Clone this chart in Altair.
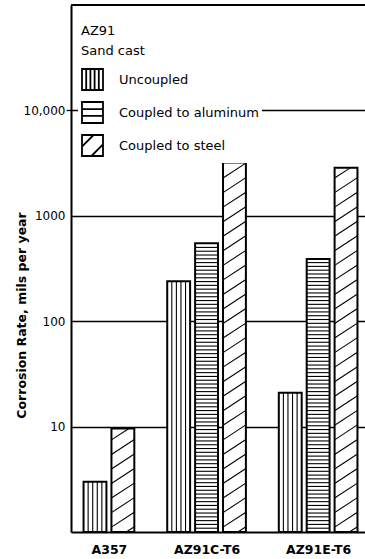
import altair as alt
import numpy as np
import pandas as pd

# ---- data -------------------------------------------------------------
groups = ["A357", "AZ91C-T6", "AZ91E-T6"]
series = ["Uncoupled", "Coupled to aluminum", "Coupled to steel"]
# corrosion rate, mils per year (None = not tested)
uncoupled = [3.0, 240, 21]
coupled_al = [None, 550, 390]
coupled_steel = [9.6, 3200, 2850]
y_ticks = [10, 100, 1000, 10000]
legend_title = ["AZ91", "Sand cast"]

FONT = "DejaVu Sans"

# ---- bar slots: one slot per bar, one empty slot between groups ---------
rows, centers, slot = [], [], 0
for gi, g in enumerate(groups):
    first = slot
    for s, vals in zip(series, [uncoupled, coupled_al, coupled_steel]):
        v = vals[gi]
        if v is None:
            continue
        rows.append(dict(group=g, series=s, value=v, slot=slot))
        slot += 1
    centers.append((first + slot - 1) / 2)
    slot += 1
last_slot = slot - 2

HALF = 0.41  # half bar width, in slot units
bars = pd.DataFrame(rows)
bars["x0"] = bars["slot"] - HALF
bars["x1"] = bars["slot"] + HALF
bars["base"] = 1.0

# ---- hatching lines, one set per bar ----------------------------------
hatch = []
for r in bars.itertuples():
    top = np.log10(r.value)
    if r.series == series[0]:            # vertical lines
        for f in (-0.6, -0.2, 0.2, 0.6):
            xx = r.slot + f * HALF
            hatch.append(dict(x=xx, x2=xx, y=1.0, y2=r.value))
    elif r.series == series[1]:          # horizontal lines
        step = 0.036
        k = step
        while k < top - step * 0.6:
            hatch.append(dict(x=r.x0, x2=r.x1, y=10 ** k, y2=10 ** k))
            k += step
    else:                                # diagonal lines
        gap, rise = 0.138, 0.142
        b = -rise + 0.05
        while b < top:
            t0 = max(0.0, (0.0 - b) / rise)
            t1 = min(1.0, (top - b) / rise)
            if t1 > t0 + 0.02:
                hatch.append(dict(
                    x=r.x0 + t0 * (r.x1 - r.x0), x2=r.x0 + t1 * (r.x1 - r.x0),
                    y=10 ** (b + t0 * rise), y2=10 ** (b + t1 * rise)))
            b += gap
hatch = pd.DataFrame(hatch)

# ---- scales & axes ----------------------------------------------------
xscale = alt.Scale(domain=[-0.86, last_slot + 0.68], nice=False, zero=False)
yscale = alt.Scale(type="log", domain=[1, 100000], nice=False)

x_label_expr = " : ".join(
    f"datum.value == {c} ? '{g}'" for c, g in zip(centers[:-1], groups[:-1])
) + f" : '{groups[-1]}'"
y_label_expr = "datum.value >= 10000 ? format(datum.value, ',') : format(datum.value, 'd')"

x_axis = alt.Axis(
    values=centers, labelExpr=x_label_expr, ticks=False, grid=False,
    domainColor="black", domainWidth=2, labelFont=FONT, labelFontSize=12.5,
    labelFontWeight="bold", labelColor="black", labelPadding=11,
    labelFlush=False, title=None,
)
y_axis = alt.Axis(
    values=y_ticks, labelExpr=y_label_expr, grid=True, gridColor="black",
    gridWidth=1.3, gridOpacity=1, domainColor="black", domainWidth=2,
    ticks=True, tickSize=5, tickColor="black", tickWidth=1.3,
    tickOpacity={"condition": {"test": "datum.value == 10000", "value": 1}, "value": 0},
    labelFont=FONT, labelFontSize=12, labelColor="black", labelPadding=1,
    title="Corrosion Rate, mils per year", titleFont=FONT, titleFontSize=12.5,
    titleFontWeight="bold", titleColor="black", titleAngle=270,
    titleX=-50, titleY=310, titleAlign="center", titleBaseline="middle",
)

# ---- layers -----------------------------------------------------------
base_bars = alt.Chart(bars).encode(
    x=alt.X("x0:Q", scale=xscale, axis=x_axis),
    x2="x1:Q",
    y=alt.Y("value:Q", scale=yscale, axis=y_axis),
    y2="base:Q",
)
fill_layer = base_bars.mark_rect(fill="white", stroke=None)
outline_layer = base_bars.mark_rect(fillOpacity=0, stroke="black", strokeWidth=2)

hatch_layer = alt.Chart(hatch).mark_rule(color="black", strokeWidth=1.1).encode(
    x=alt.X("x:Q", scale=xscale), x2="x2:Q",
    y=alt.Y("y:Q", scale=yscale), y2="y2:Q",
)

frame_top = alt.Chart(pd.DataFrame({"y": [100000]})).mark_rule(
    color="black", strokeWidth=2
).encode(y=alt.Y("y:Q", scale=yscale))

# hatched swatches for the key, as SVG paths in a -1..1 box
swatches = [
    "M-1,-1H1V1H-1Z M-0.6,-1V1 M-0.2,-1V1 M0.2,-1V1 M0.6,-1V1",
    "M-1,-1H1V1H-1Z M-1,-0.33H1 M-1,0.33H1",
    "M-1,-1H1V1H-1Z M-1,0.1L0.1,-1 M-0.1,1L1,-0.1",
]
key_layer = alt.Chart(pd.DataFrame({"series": series})).mark_point(
    color="black", filled=False
).encode(
    x=alt.value(0), y=alt.value(0), opacity=alt.value(0),
    shape=alt.Shape(
        "series:N",
        scale=alt.Scale(domain=series, range=swatches),
        legend=alt.Legend(
            orient="none", legendX=7, legendY=17, title=legend_title,
            fillColor="white", padding=3, symbolSize=441,
            symbolStrokeWidth=1.8, symbolStrokeColor="black",
            symbolFillColor="white", symbolOpacity=1,
            labelFont=FONT, labelFontSize=13, labelColor="black",
            labelOffset=15, labelLimit=300, rowPadding=4,
            titleFont=FONT, titleFontSize=13, titleFontWeight="normal",
            titleColor="black", titleLineHeight=20, titlePadding=10,
        ),
    ),
)

chart = alt.layer(
    fill_layer, hatch_layer, outline_layer, frame_top, key_layer
).properties(
    width=294, height=527, autosize="none",
    padding={"left": 71, "top": 5, "right": 0, "bottom": 27},
    background="white",
).configure_view(stroke=None)

chart.save("out.html", embed_options={"renderer": "svg", "actions": False})
